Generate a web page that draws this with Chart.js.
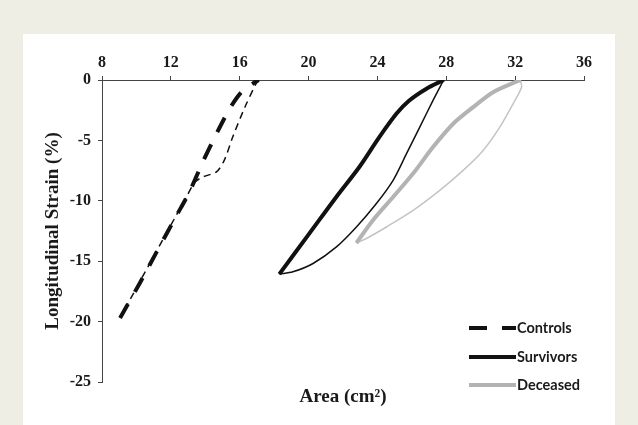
<!DOCTYPE html>
<html>
<head>
<meta charset="utf-8">
<script src="https://cdn.jsdelivr.net/npm/chart.js@4"></script>
<style>
  html, body { margin: 0; padding: 0; background: #eeeee5; }
  #panel { position: absolute; left: 23px; top: 34px; width: 592px; height: 391px; background: #fff; }
  #chart { position: absolute; left: 0; top: 0; }
</style>
</head>
<body>
<div id="panel"></div>
<canvas id="chart" width="638" height="425"></canvas>
<script>
// axis ranges
const xTickMin = 8, xTickMax = 36, xStep = 4;
const yTickMin = -25, yTickMax = 0, yStep = 5;

const seriesNames = ['Controls', 'Survivors', 'Deceased'];

// Controls loop (thick = one phase, thin = other phase)
const controlsThickX = [9.05, 10.2, 11.3, 12.3, 13.1, 13.85, 14.65, 15.45, 16.1, 16.8, 17.1];
const controlsThickY = [-19.7, -16.8, -13.9, -11.3, -9.2, -6.8, -4.45, -2.3, -1.0, -0.25, 0];
const controlsThinX = [17.1, 16.95, 16.3, 15.6, 15.1, 14.65, 13.9, 13.4, 12.9, 11.0, 9.05];
const controlsThinY = [0, -0.3, -2.25, -4.7, -6.65, -7.6, -8.0, -8.45, -9.7, -14.6, -19.7];

// Survivors loop
const survivorsThickX = [18.3, 20.05, 21.6, 22.95, 24.1, 25.1, 25.85, 26.85, 27.85];
const survivorsThickY = [-16.07, -12.7, -9.7, -7.2, -4.75, -2.8, -1.7, -0.72, 0];
const survivorsThinX = [27.85, 27.23, 26.46, 25.69, 24.91, 23.94, 22.78, 21.62, 20.26, 19.09, 18.3];
const survivorsThinY = [0, -1.69, -3.9, -6.1, -8.31, -10.23, -12.17, -13.82, -15.19, -15.88, -16.07];

// Deceased loop
const deceasedThickX = [22.78, 23.74, 24.91, 26.07, 27.23, 28.4, 29.56, 30.72, 32.3];
const deceasedThickY = [-13.49, -11.61, -9.69, -7.75, -5.55, -3.62, -2.25, -1.01, 0];
const deceasedThinX = [32.3, 32.37, 31.88, 31.11, 30.14, 28.98, 27.62, 26.07, 24.52, 23.36, 22.78];
const deceasedThinY = [0, -0.6, -1.97, -3.9, -5.83, -7.48, -9.13, -10.79, -12.17, -13.12, -13.49];

function pts(xs, ys) {
  return xs.map((x, i) => ({ x: x, y: ys[i] }));
}

function line(label, xs, ys, color, width, dash) {
  return {
    label: label,
    data: pts(xs, ys),
    showLine: true,
    borderColor: color,
    backgroundColor: color,
    borderWidth: width,
    borderDash: dash,
    pointRadius: 0,
    tension: 0.3,
    fill: false
  };
}

const black = '#111';
const grey = '#b3b3b3';

// draws the little legend in the lower right, using the thick datasets' styles
const cornerLegend = {
  id: 'cornerLegend',
  afterDraw(chart) {
    const ctx = chart.ctx;
    const rows = [0, 2, 4];
    const rowY = [328, 357, 385];
    ctx.save();
    rows.forEach((dsIndex, i) => {
      const ds = chart.data.datasets[dsIndex];
      ctx.beginPath();
      ctx.strokeStyle = ds.borderColor;
      ctx.lineWidth = 4;
      ctx.setLineDash(i === 0 ? [18, 15] : []);
      ctx.moveTo(469, rowY[i]);
      ctx.lineTo(516, rowY[i]);
      ctx.stroke();
      ctx.setLineDash([]);
      ctx.fillStyle = '#1a1a1a';
      ctx.font = 'bold 14.5px Lato';
      ctx.textBaseline = 'middle';
      ctx.textAlign = 'left';
      ctx.fillText(seriesNames[i], 517, rowY[i]);
    });
    ctx.restore();
  }
};

Chart.defaults.font.family = '"Liberation Serif", "Times New Roman", serif';
Chart.defaults.color = '#1a1a1a';

new Chart(document.getElementById('chart'), {
  type: 'scatter',
  data: {
    datasets: [
      line('Controls', controlsThickX, controlsThickY, black, 4, [16, 14]),
      line('Controls (thin)', controlsThinX, controlsThinY, black, 1.5, [7, 5]),
      line('Survivors', survivorsThickX, survivorsThickY, black, 4, []),
      line('Survivors (thin)', survivorsThinX, survivorsThinY, black, 1.5, []),
      line('Deceased', deceasedThickX, deceasedThickY, grey, 4, []),
      line('Deceased (thin)', deceasedThinX, deceasedThinY, '#c4c4c4', 1.5, [])
    ]
  },
  options: {
    responsive: false,
    animation: false,
    layout: { padding: { left: 0, top: 0, right: 54, bottom: 0 } },
    plugins: {
      legend: { display: false },
      tooltip: { enabled: false }
    },
    scales: {
      x: {
        type: 'linear',
        position: 'top',
        min: xTickMin,
        max: xTickMax,
        ticks: { stepSize: xStep, padding: 4, font: { size: 16, weight: 'bold' } },
        grid: { drawOnChartArea: false, tickLength: 4, color: '#444' },
        border: { color: '#444', width: 1 },
        afterFit: s => { s.height = 80; }
      },
      xTitle: {
        type: 'linear',
        position: 'bottom',
        min: xTickMin,
        max: xTickMax,
        ticks: { display: false },
        grid: { display: false },
        border: { display: false },
        title: {
          display: true,
          text: 'Area (cm²)',
          font: { size: 19, weight: 'bold' },
          padding: { top: 0, bottom: 16.5 }
        },
        afterFit: s => { s.height = 43; }
      },
      y: {
        type: 'linear',
        min: yTickMin,
        max: yTickMax,
        ticks: { stepSize: yStep, padding: 7, font: { size: 16, weight: 'bold' } },
        grid: { drawOnChartArea: false, tickLength: 4, color: '#444' },
        border: { color: '#444', width: 1 },
        title: {
          display: true,
          text: 'Longitudinal Strain (%)',
          font: { size: 19, weight: 'bold' },
          padding: { top: 41.5, bottom: 0 }
        },
        afterFit: s => { s.width = 102; }
      }
    }
  },
  plugins: [cornerLegend]
});
</script>
</body>
</html>
